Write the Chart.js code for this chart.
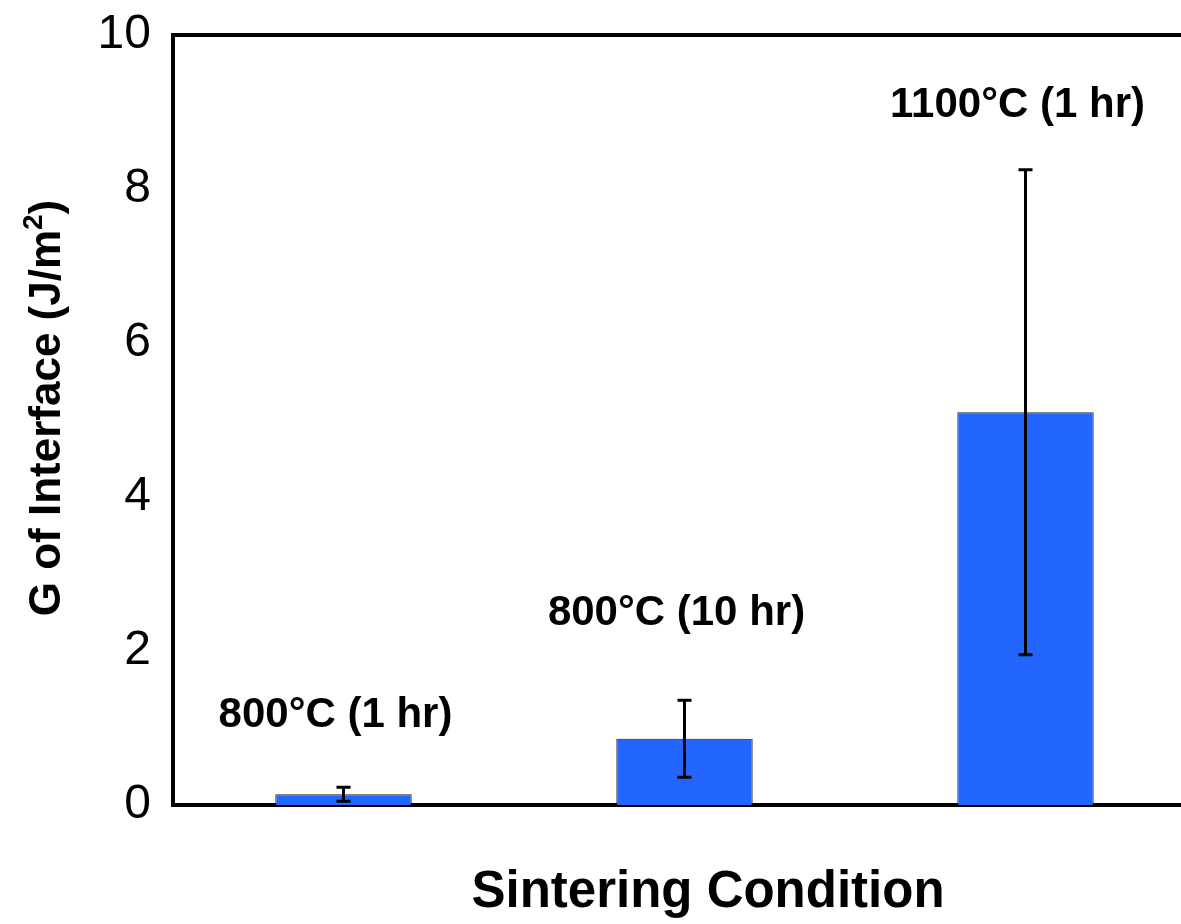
<!DOCTYPE html>
<html>
<head>
<meta charset="utf-8">
<script src="https://cdn.jsdelivr.net/npm/chart.js@4.4.1/dist/chart.umd.min.js"></script>
<style>
  html, body { margin: 0; padding: 0; background: #fff; overflow: hidden; }
  #wrap { width: 1200px; height: 924px; }
</style>
</head>
<body>
<div id="wrap"><canvas id="chart" width="1200" height="924"></canvas></div>
<script>
// sintering conditions and measured interface G (J/m^2)
const conditions = ["800°C (1 hr)", "800°C (10 hr)", "1100°C (1 hr)"];
const gValues = [0.14, 0.86, 5.10];
const gErrors = [0.09, 0.50, 3.15];
const conditionLabelY = [1.01, 2.34, 8.94]; // where the condition text sits, in data units
const yTicks = [0, 2, 4, 6, 8, 10];

const FONT = "'Liberation Sans', Arial, Helvetica, sans-serif";

const extras = {
  id: "extras",
  afterDatasetsDraw(chart) {
    const { ctx, chartArea } = chart;
    const x = chart.scales.x, y = chart.scales.y;
    ctx.save();

    // error bars
    ctx.strokeStyle = "#000";
    ctx.lineWidth = 3;
    gValues.forEach((v, i) => {
      const cx = x.getPixelForValue(i);
      const top = y.getPixelForValue(v + gErrors[i]);
      const bot = y.getPixelForValue(Math.max(0, v - gErrors[i]));
      ctx.beginPath();
      ctx.moveTo(cx, top); ctx.lineTo(cx, bot);
      ctx.moveTo(cx - 7, top); ctx.lineTo(cx + 7, top);
      ctx.moveTo(cx - 7, bot); ctx.lineTo(cx + 7, bot);
      ctx.stroke();
    });

    // top frame line
    ctx.lineWidth = 4;
    ctx.beginPath();
    ctx.moveTo(chartArea.left - 2, chartArea.top);
    ctx.lineTo(chart.width, chartArea.top);
    ctx.stroke();

    // condition labels
    ctx.fillStyle = "#000";
    ctx.font = "bold 42px " + FONT;
    ctx.textAlign = "center";
    ctx.textBaseline = "alphabetic";
    conditions.forEach((c, i) => {
      ctx.fillText(c, x.getPixelForValue(i) - 8, y.getPixelForValue(conditionLabelY[i]));
    });

    // x axis title
    ctx.font = "bold 51px " + FONT;
    ctx.textBaseline = "middle";
    ctx.fillText("Sintering Condition", chartArea.left + 535, 893);

    // y axis title with superscript
    ctx.translate(45, 408);
    ctx.rotate(-Math.PI / 2);
    const main = "G of Interface (J/m", sup = "2", tail = ")";
    ctx.font = "bold 44px " + FONT;
    const wMain = ctx.measureText(main).width;
    const wTail = ctx.measureText(tail).width;
    ctx.font = "bold 28px " + FONT;
    const wSup = ctx.measureText(sup).width;
    let sx = -(wMain + wSup + wTail) / 2;
    ctx.textAlign = "left";
    ctx.textBaseline = "alphabetic";
    ctx.font = "bold 44px " + FONT;
    ctx.fillText(main, sx, 15);
    sx += wMain;
    ctx.font = "bold 28px " + FONT;
    ctx.fillText(sup, sx, -3);
    sx += wSup;
    ctx.font = "bold 44px " + FONT;
    ctx.fillText(tail, sx, 15);

    ctx.restore();
  }
};

new Chart(document.getElementById("chart"), {
  type: "bar",
  data: {
    labels: conditions,
    datasets: [{
      data: gValues,
      backgroundColor: "#2266ff",
      borderColor: "#222",
      borderWidth: 1,
      barPercentage: 0.4,
      categoryPercentage: 1
    }]
  },
  options: {
    responsive: false,
    devicePixelRatio: 1,
    animation: false,
    layout: { padding: { left: 0, top: 35, right: 4, bottom: 0 } },
    plugins: { legend: { display: false }, tooltip: { enabled: false } },
    scales: {
      x: {
        grid: { display: false },
        ticks: { display: false },
        border: { display: true, color: "#000", width: 4 },
        afterFit(scale) { scale.height = 119; }
      },
      y: {
        min: 0,
        max: 10,
        afterBuildTicks(scale) { scale.ticks = yTicks.map(v => ({ value: v })); },
        grid: { display: false },
        border: { display: true, color: "#000", width: 4 },
        ticks: {
          color: "#000",
          padding: 14,
          font: { family: FONT, size: 48 }
        },
        afterFit(scale) {
          scale.width = 173;
          scale.paddingTop = 0;
          scale.paddingBottom = 0;
        }
      }
    }
  },
  plugins: [extras]
});
</script>
</body>
</html>
